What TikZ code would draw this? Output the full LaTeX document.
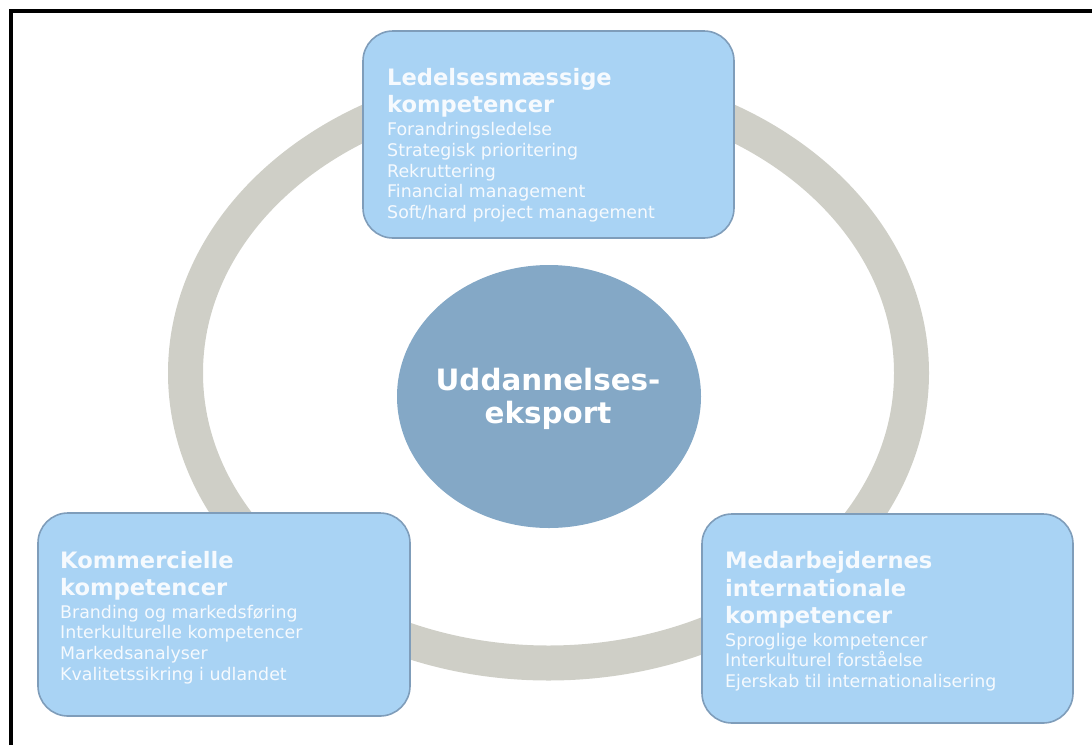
\documentclass[tikz,border=0pt]{standalone}
\usepackage{fontspec}
\setmainfont{DejaVu Sans}
\usetikzlibrary{shapes.geometric}
\definecolor{boxfill}{HTML}{A9D3F4}
\definecolor{boxline}{HTML}{7F9DBA}
\definecolor{hubfill}{HTML}{84A8C6}
\definecolor{ringcol}{HTML}{CFCFC7}
\definecolor{txt}{HTML}{F6FAFE}
\tikzset{
  ringstyle/.style={draw=ringcol, line width=35pt},
  compbox/.style={draw=boxline, line width=1.6pt, fill=boxfill, rounded corners=30pt, rectangle, inner sep=0pt},
  hub/.style={ellipse, fill=hubfill, draw=none, inner sep=0pt, minimum width=304pt, minimum height=263pt},
  ttl/.style={anchor=base west, inner sep=0pt, text=txt, font=\fontsize{22.6}{26}\selectfont\bfseries},
  sub/.style={anchor=base west, inner sep=0pt, text=txt, font=\fontsize{17.4}{20}\selectfont},
  hubtxt/.style={anchor=base, inner sep=0pt, text=white, font=\fontsize{29.4}{34}\selectfont\bfseries},
  frame/.style={draw=black, line width=4pt}
}
\begin{document}
\begin{tikzpicture}[x=1pt, y=-1pt]
\useasboundingbox (0,0) rectangle (1092,745);
\coordinate (fa) at (11,745);
\coordinate (fb) at (11,11);
\coordinate (fc) at (1092,11);
\draw[frame] (fa) -- (fb) -- (fc);
\coordinate (rc) at (548.5,373);
\draw[ringstyle] (rc) ellipse [x radius=363, y radius=290];
% hub
\node[hub] (hub) at (549,396.5) {};
\node[hubtxt] (hub1) at (548,390) {Uddannelses-};
\node[hubtxt] (hub2) at (548,423) {eksport};
% top box
\node[compbox, minimum width=371pt, minimum height=207pt] (top) at (548.5,134.5) {};
\node[ttl] (top1) at (387,85) {Ledelsesmæssige};
\node[ttl] (top2) at (387,112) {kompetencer};
\node[sub] (top3) at (387,135) {Forandringsledelse};
\node[sub] (top4) at (387,156) {Strategisk prioritering};
\node[sub] (top5) at (387,177) {Rekruttering};
\node[sub] (top6) at (387,197) {Financial management};
\node[sub] (top7) at (387,218) {Soft/hard project management};
% left box
\node[compbox, minimum width=372pt, minimum height=203pt] (left) at (224,614.5) {};
\node[ttl] (left1) at (60,568) {Kommercielle};
\node[ttl] (left2) at (60,595) {kompetencer};
\node[sub] (left3) at (60,618) {Branding og markedsføring};
\node[sub] (left4) at (60,638) {Interkulturelle kompetencer};
\node[sub] (left5) at (60,659) {Markedsanalyser};
\node[sub] (left6) at (60,680) {Kvalitetssikring i udlandet};
% right box
\node[compbox, minimum width=371pt, minimum height=209pt] (right) at (887.5,618.5) {};
\node[ttl] (right1) at (725,568) {Medarbejdernes};
\node[ttl] (right2) at (725,596) {internationale};
\node[ttl] (right3) at (725,623) {kompetencer};
\node[sub] (right4) at (725,646) {Sproglige kompetencer};
\node[sub] (right5) at (725,666) {Interkulturel forståelse};
\node[sub] (right6) at (725,687) {Ejerskab til internationalisering};
\end{tikzpicture}
\end{document}
